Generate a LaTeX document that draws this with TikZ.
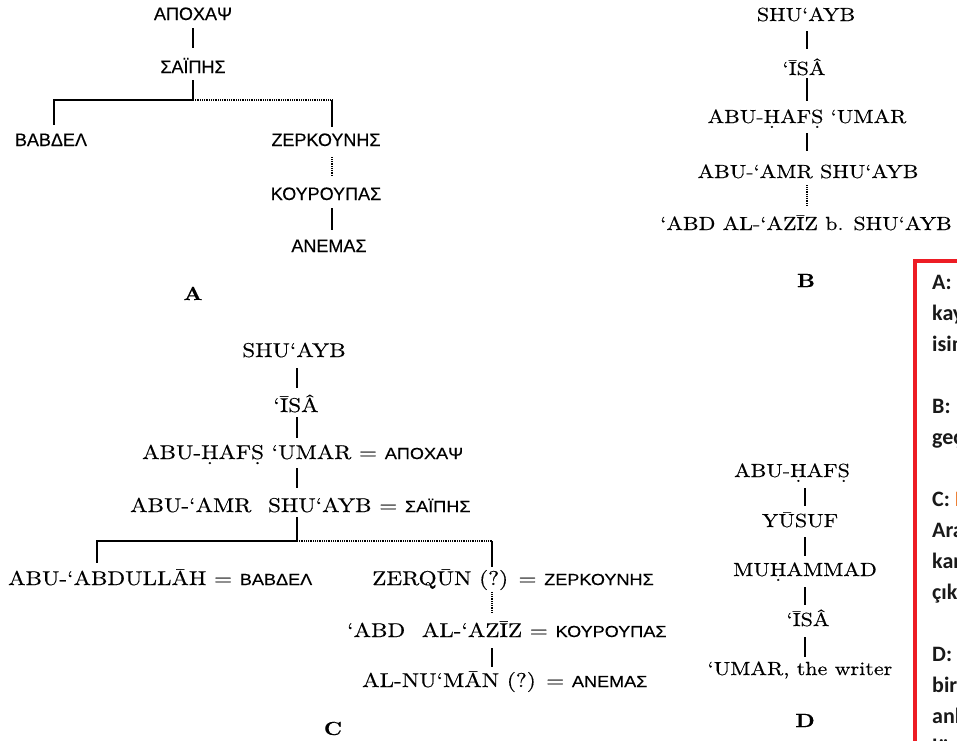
\documentclass[tikz,border=0pt]{standalone}
\usepackage{fontspec}
\setmainfont{lmroman10-regular}[Extension=.otf, BoldFont=lmroman10-bold, FakeStretch=1.16, FakeBold=0.35]
\newfontfamily\grkA{Liberation Sans}[FakeBold=0.3]
\newfontfamily\grkC{Liberation Sans}[FakeStretch=1.13, FakeBold=0.3]
\newfontfamily\boxfont{Carlito}
\definecolor{boxred}{HTML}{ED1C24}
\definecolor{boxor}{HTML}{ED7D31}
\newcommand\dotu[1]{{\ooalign{#1\cr\hidewidth\raisebox{-0.6ex}{.}\hidewidth\cr}}}
\newcommand\gc[1]{{\grkC\fontsize{16}{20}\selectfont #1}}
\begin{document}
\begin{tikzpicture}[x=1pt,y=-1pt,
  ser/.style={inner sep=0pt, text height=13pt, text depth=0pt, anchor=base, font=\fontsize{19}{23}\selectfont},
  serc/.style={inner sep=0pt, text height=13.5pt, text depth=0pt, anchor=base west, font=\fontsize{20}{24}\selectfont},
  grA/.style={inner sep=0pt, text height=13pt, text depth=0pt, anchor=base, font=\grkA\fontsize{18}{22}\selectfont},
  lab/.style={inner sep=0pt, anchor=base, font=\bfseries\fontsize{19}{22}\selectfont},
  ln/.style={line width=1.4pt},
  dl/.style={line width=1.3pt, dash pattern=on 1pt off 0.8pt, black},
  boxtxt/.style={inner sep=0pt, anchor=base west, font=\boxfont\bfseries\fontsize{22}{26}\selectfont, text=black!90}
]
\useasboundingbox (0,0) rectangle (957,740);
\clip (0,0) rectangle (957,740);

% ---------- Tree A ----------
\node[grA] (a1) at (193,20) {ΑΠΟΧΑΨ};
\node[grA] (a2) at (193,73) {ΣΑΪΠΗΣ};
\node[grA] (a3) at (51,146) {ΒΑΒΔΕΛ};
\node[grA] (a4) at (326,146) {ΖΕΡΚΟΥΝΗΣ};
\node[grA] (a5) at (326,200) {ΚΟΥΡΟΥΠΑΣ};
\node[grA] (a6) at (329,252) {ΑΝΕΜΑΣ};
\node[lab] (labA) at (193,300) {A};
\coordinate (axl) at (54,0);
\coordinate (ax2) at (332,0);
\coordinate (aj) at (193,100);
\draw[ln, shorten <=8pt, shorten >=12pt] (a1.south) -- (a2.north);
\draw[ln, shorten <=7pt] (a2.south) -- (aj);
\draw[ln, shorten >=8pt] (aj) -| (a3.north -| axl);
\draw[dl] (aj) -- (aj -| ax2);
\draw[ln, shorten >=6pt] (aj -| ax2) -- (a4.north -| ax2);
\draw[dl, shorten <=11pt, shorten >=10pt] (a4.south -| ax2) -- (a5.north -| ax2);
\draw[ln, shorten <=8pt, shorten >=9pt] (a5.south -| ax2) -- (a6.north -| ax2);

% ---------- Tree B ----------
\node[ser] (b1) at (806,21) {SHU‘AYB};
\node[ser] (b2) at (804,75) {‘ĪSÂ};
\node[ser] (b3) at (807,123) {ABU-\dotu{H}AF\dotu{S} ‘UMAR};
\node[ser] (b4) at (808,178) {ABU-‘AMR SHU‘AYB};
\node[ser] (b5) at (806,230) {‘ABD AL-‘AZĪZ b. SHU‘AYB};
\node[lab] (labB) at (806,287) {B};
\coordinate (bx) at (807,0);
\draw[ln, shorten <=10pt, shorten >=13pt] (b1.south -| bx) -- (b2.north -| bx);
\draw[ln, shorten <=3pt, shorten >=9pt] (b2.south -| bx) -- (b3.north -| bx);
\draw[ln, shorten <=10pt, shorten >=14pt] (b3.south -| bx) -- (b4.north -| bx);
\draw[dl, shorten <=7pt, shorten >=11pt] (b4.south -| bx) -- (b5.north -| bx);

% ---------- Tree C ----------
\node[ser, font=\fontsize{20}{24}\selectfont] (c1) at (294,357) {SHU‘AYB};
\node[ser, font=\fontsize{20}{24}\selectfont] (c2) at (296,412) {‘ĪSÂ};
\node[serc] (c3) at (142,459) {ABU-\dotu{H}AF\dotu{S} ‘UMAR = \gc{ΑΠΟΧΑΨ}};
\node[serc] (c4) at (130,512) {ABU-‘AMR\hspace{0.45em} SHU‘AYB = \gc{ΣΑΪΠΗΣ}};
\node[serc] (c5) at (8,585) {ABU-‘ABDULLĀH = \gc{ΒΑΒΔΕΛ}};
\node[serc] (c6) at (372,585) {ZERQŪN (?) = \gc{ΖΕΡΚΟΥΝΗΣ}};
\node[serc] (c7) at (347,637) {‘ABD\hspace{0.45em} AL-‘AZĪZ = \gc{ΚΟΥΡΟΥΠΑΣ}};
\node[serc] (c8) at (362,687) {AL-NU‘MĀN (?) = \gc{ΑΝΕΜΑΣ}};
\node[lab] (labC) at (333,735) {C};
\coordinate (cx) at (297,0);
\coordinate (cl) at (97,0);
\coordinate (cr) at (492,0);
\coordinate (cj) at (297,541);
\draw[ln, shorten <=11pt, shorten >=11pt] (c1.south -| cx) -- (c2.north -| cx);
\draw[ln, shorten <=5pt, shorten >=7pt] (c2.south -| cx) -- (c3.north -| cx);
\draw[ln, shorten <=9pt, shorten >=10pt] (c3.south -| cx) -- (c4.north -| cx);
\draw[ln, shorten <=5pt] (c4.south -| cx) -- (cj);
\draw[ln, shorten >=8pt] (cj) -| (c5.north -| cl);
\draw[dl] (cj) -- (cj -| cr);
\draw[ln, shorten >=4pt] (cj -| cr) -- (c6.north -| cr);
\draw[dl, shorten <=7pt, shorten >=11pt] (c6.south -| cr) -- (c7.north -| cr);
\draw[ln, shorten <=11pt, shorten >=6pt] (c7.south -| cr) -- (c8.north -| cr);

% ---------- Tree D ----------
\node[ser] (d1) at (792,477) {ABU-\dotu{H}AF\dotu{S}};
\node[ser] (d2) at (800,527) {YŪSUF};
\node[ser] (d3) at (805,576) {MU\dotu{H}AMMAD};
\node[ser] (d4) at (808,626) {‘ĪSÂ};
\node[ser] (d5) at (800,675) {‘UMAR, the writer};
\node[lab] (labD) at (805,727) {D};
\coordinate (dx) at (805,0);
\draw[ln, shorten <=11pt, shorten >=8pt] (d1.south -| dx) -- (d2.north -| dx);
\draw[ln, shorten <=10pt, shorten >=7pt] (d2.south -| dx) -- (d3.north -| dx);
\draw[ln, shorten <=11pt, shorten >=8pt] (d3.south -| dx) -- (d4.north -| dx);
\draw[ln, shorten <=11pt, shorten >=5pt] (d4.south -| dx) -- (d5.north -| dx);

% ---------- note box ----------
\draw[boxred, line width=4pt] (915,261) rectangle (1000,800);
\foreach \t/\yy [count=\i] in {A:/289, kay/320, isim/351, B:/413, geç/444, Ara/537, kar/568, çık/599, D:/661, bir/692, anl/723, lö/754}
  \node[boxtxt] (t\i) at (932,\yy) {\t};
\node[boxtxt] (tC) at (932,506) {C: \textcolor{boxor}{B}};
\end{tikzpicture}
\end{document}
